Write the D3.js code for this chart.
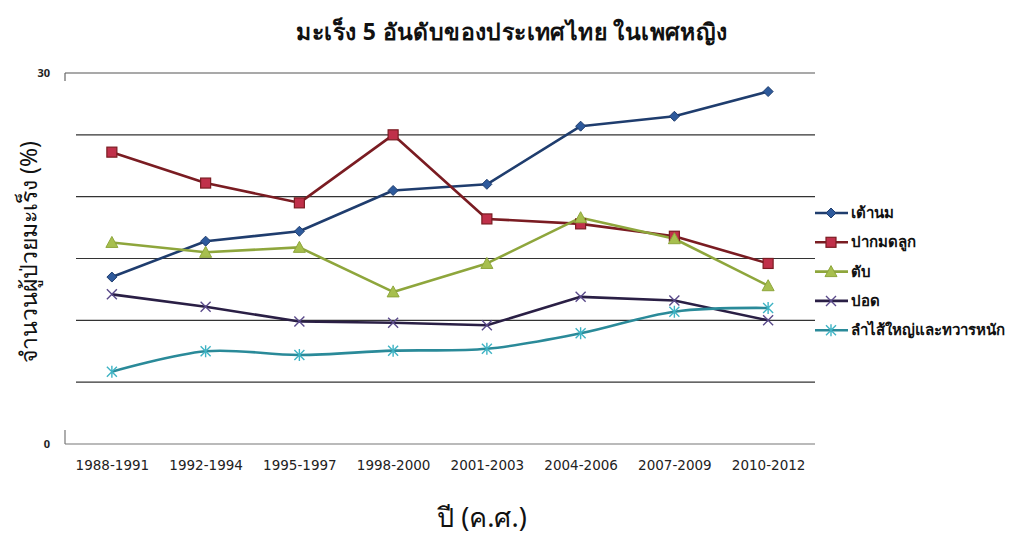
<!DOCTYPE html>
<html>
<head>
<meta charset="utf-8">
<script src="https://cdn.jsdelivr.net/npm/d3@7"></script>
<style>
  body { margin: 0; background: #ffffff; }
  svg { display: block; font-family: "Noto Sans", "DejaVu Sans", sans-serif; }
</style>
</head>
<body>
<svg id="chart" width="1013" height="537"></svg>
<script>
// Periods on the x axis
const periods = ["1988-1991", "1992-1994", "1995-1997", "1998-2000", "2001-2003", "2004-2006", "2007-2009", "2010-2012"];

// Share of patients (%) for each cancer site, women, Thailand
const breast     = [13.5, 16.4, 17.2, 20.5, 21.0, 25.7, 26.5, 28.5];
const cervix     = [23.6, 21.1, 19.5, 25.0, 18.2, 17.8, 16.8, 14.6];
const liver      = [16.3, 15.5, 15.9, 12.3, 14.6, 18.3, 16.6, 12.8];
const lung       = [12.1, 11.1, 9.9, 9.8, 9.6, 11.9, 11.6, 10.0];
const colorectal = [5.85, 7.5, 7.2, 7.55, 7.7, 8.95, 10.7, 11.0];

const seriesNames = ["เต้านม", "ปากมดลูก", "ตับ", "ปอด", "ลำไส้ใหญ่และทวารหนัก"];
const yTickLabels = [0, 30];
const gridValues = [5, 10, 15, 20, 25];

const series = [
  { name: seriesNames[0], values: breast,     line: "#1f3d6e", fill: "#2e5a9c", marker: "diamond", smooth: false },
  { name: seriesNames[1], values: cervix,     line: "#7a1c22", fill: "#c0304a", marker: "square",  smooth: false },
  { name: seriesNames[2], values: liver,      line: "#8ea63c", fill: "#a7bf4e", marker: "triangle", smooth: false },
  { name: seriesNames[3], values: lung,       line: "#2a1f45", fill: "#5a4a8a", marker: "x",       smooth: false },
  { name: seriesNames[4], values: colorectal, line: "#2a8a99", fill: "#3fb3c4", marker: "star",    smooth: true }
];

const svg = d3.select("#chart");
const plotLeft = 65, plotRight = 815, plotTop = 73, plotBottom = 444;

const x = d3.scalePoint().domain(periods).range([plotLeft, plotRight]).padding(0.5);
const y = d3.scaleLinear().domain([0, 30]).range([plotBottom, plotTop]);

// Title
svg.append("text")
  .attr("x", 512).attr("y", 40)
  .attr("text-anchor", "middle")
  .attr("font-size", 23).attr("font-weight", "bold").attr("fill", "#111")
  .attr("letter-spacing", 0.4)
  .text("มะเร็ง 5 อันดับของประเทศไทย ในเพศหญิง");

// Horizontal gridlines
svg.append("g").selectAll("line").data(gridValues).join("line")
  .attr("x1", plotLeft + 11).attr("x2", plotRight)
  .attr("y1", d => y(d)).attr("y2", d => y(d))
  .attr("stroke", "#333").attr("stroke-width", 1.2);

// Top rule and bottom axis line
svg.append("line").attr("x1", plotLeft).attr("x2", plotRight).attr("y1", y(30)).attr("y2", y(30))
  .attr("stroke", "#555").attr("stroke-width", 1.2);
svg.append("line").attr("x1", plotLeft).attr("x2", plotRight).attr("y1", y(0)).attr("y2", y(0))
  .attr("stroke", "#777").attr("stroke-width", 1.2);
// Left axis ends
svg.append("line").attr("x1", plotLeft).attr("x2", plotLeft).attr("y1", y(30)).attr("y2", y(30) + 8)
  .attr("stroke", "#666").attr("stroke-width", 1.2);
svg.append("line").attr("x1", plotLeft).attr("x2", plotLeft).attr("y1", y(0) - 14).attr("y2", y(0))
  .attr("stroke", "#777").attr("stroke-width", 1.2);

// Y tick labels
svg.append("g").selectAll("text").data(yTickLabels).join("text")
  .attr("x", 50).attr("y", d => y(d) + 4)
  .attr("text-anchor", "end")
  .attr("font-size", 11).attr("font-weight", "bold").attr("fill", "#222")
  .text(d => d);

// X tick labels
const xAxis = d3.axisBottom(x).tickSize(0).tickPadding(16);
const gx = svg.append("g").attr("transform", `translate(0,${plotBottom})`).call(xAxis);
gx.select(".domain").remove();
gx.selectAll("text")
  .attr("font-size", 13.5).attr("fill", "#222")
  .attr("font-family", "'DejaVu Sans', sans-serif");

// Axis titles
svg.append("text")
  .attr("transform", "translate(37,252) rotate(-90)")
  .attr("text-anchor", "middle")
  .attr("font-size", 23).attr("fill", "#111")
  .text("จำนวนผู้ป่วยมะเร็ง (%)");

svg.append("text")
  .attr("x", 482).attr("y", 527)
  .attr("text-anchor", "middle")
  .attr("font-size", 27).attr("fill", "#111")
  .text("ปี (ค.ศ.)");

// Marker shapes
function drawMarker(g, s, cx, cy) {
  const m = g.append("g").attr("transform", `translate(${cx},${cy})`);
  if (s.marker === "diamond") {
    m.append("path").attr("d", "M0,-5L5,0L0,5L-5,0Z").attr("fill", s.fill).attr("stroke", s.line).attr("stroke-width", 1);
  } else if (s.marker === "square") {
    m.append("rect").attr("x", -5).attr("y", -5).attr("width", 10).attr("height", 10)
      .attr("fill", s.fill).attr("stroke", s.line).attr("stroke-width", 1.2);
  } else if (s.marker === "triangle") {
    m.append("path").attr("d", "M0,-6L6,5L-6,5Z").attr("fill", s.fill).attr("stroke", s.line).attr("stroke-width", 1);
  } else if (s.marker === "x") {
    m.append("path").attr("d", "M-5,-5L5,5M-5,5L5,-5").attr("stroke", s.fill).attr("stroke-width", 1.4);
  } else if (s.marker === "star") {
    m.append("path").attr("d", "M-5,-5L5,5M-5,5L5,-5M0,-6L0,6").attr("stroke", s.fill).attr("stroke-width", 1.4);
  }
}

// Series lines and markers
const lines = svg.append("g");
series.forEach(s => {
  const gen = d3.line()
    .x((d, i) => x(periods[i]))
    .y(d => y(d))
    .curve(s.smooth ? d3.curveCatmullRom.alpha(0.5) : d3.curveLinear);
  lines.append("path")
    .attr("d", gen(s.values))
    .attr("fill", "none")
    .attr("stroke", s.line)
    .attr("stroke-width", 2.6)
    .attr("stroke-linejoin", "round");
});
series.forEach(s => {
  const g = lines.append("g");
  s.values.forEach((v, i) => drawMarker(g, s, x(periods[i]), y(v)));
});

// Legend
const legend = svg.append("g");
series.forEach((s, i) => {
  const ly = 213 + i * 29.3;
  legend.append("line").attr("x1", 815).attr("x2", 848).attr("y1", ly).attr("y2", ly)
    .attr("stroke", s.line).attr("stroke-width", 2.6);
  drawMarker(legend, s, 831, ly);
  legend.append("text")
    .attr("x", 851).attr("y", ly + 5)
    .attr("font-size", 15).attr("font-weight", "bold").attr("fill", "#111")
    .text(s.name);
});
</script>
</body>
</html>
